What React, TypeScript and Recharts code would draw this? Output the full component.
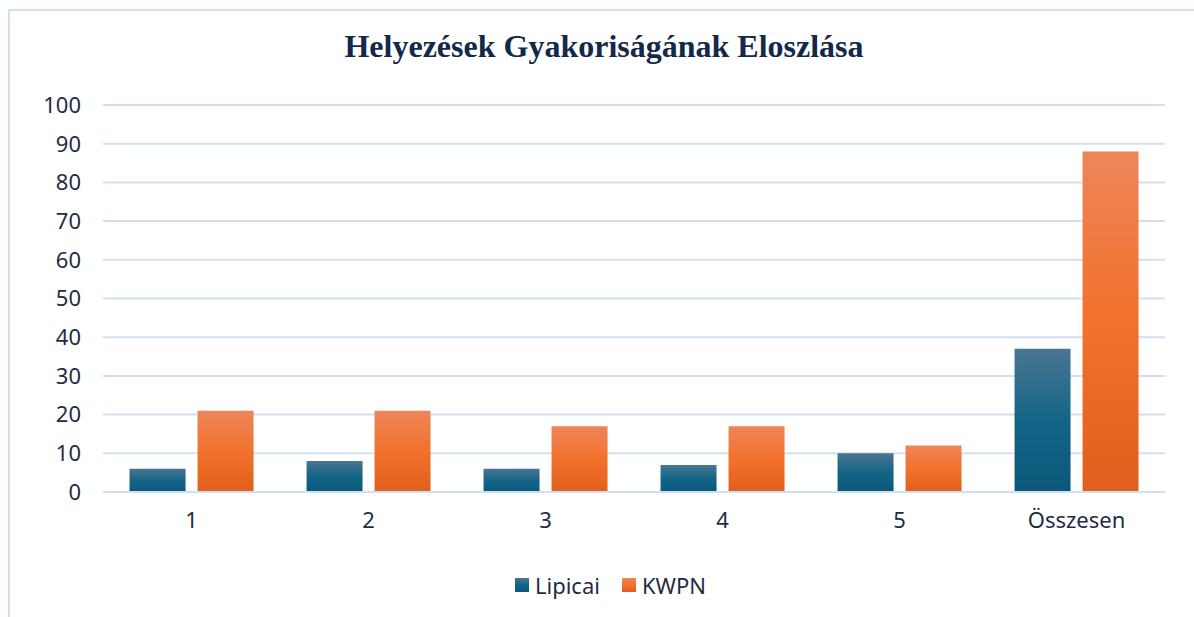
import { BarChart, Bar, XAxis, YAxis, CartesianGrid, Legend } from 'recharts';

const categories = ['1', '2', '3', '4', '5', 'Összesen'];
const lipicai = [6, 8, 6, 7, 10, 37];
const kwpn = [21, 21, 17, 17, 12, 88];
const yTicks = [0, 10, 20, 30, 40, 50, 60, 70, 80, 90, 100];

const seriesNames = ['Lipicai', 'KWPN'];
const seriesFills = ['url(#gradLip)', 'url(#gradKwpn)'];

const chartData = categories.map((name, i) => ({
  name,
  Lipicai: lipicai[i],
  KWPN: kwpn[i],
}));

const textColor = '#1f2d44';
const gridColor = '#cfe0f2';
const font = '"Noto Sans", "Liberation Sans", sans-serif';

if (typeof document !== 'undefined') document.body.style.margin = '0';

function LegendBox() {
  return (
    <div
      style={{
        display: 'flex',
        justifyContent: 'center',
        alignItems: 'center',
        paddingLeft: 56,
        fontFamily: font,
        fontSize: 22,
        color: textColor,
      }}
    >
      {seriesNames.map((n, i) => (
        <div key={n} style={{ display: 'flex', alignItems: 'center', marginRight: i === 0 ? 22 : 0 }}>
          <svg width={14} height={14} style={{ marginRight: 6 }}>
            <rect width={14} height={14} fill={seriesFills[i]} />
          </svg>
          <span>{n}</span>
        </div>
      ))}
    </div>
  );
}

export default function App() {
  return (
    <div style={{ position: 'relative', width: 1194, height: 617, overflow: 'hidden', background: '#fff' }}>
      {/* chart border */}
      <div
        style={{
          position: 'absolute',
          left: 8,
          top: 9,
          width: 1200,
          height: 620,
          borderLeft: `2px solid ${gridColor}`,
          borderTop: `2px solid ${gridColor}`,
        }}
      />
      <div
        style={{
          position: 'absolute',
          top: 28,
          left: 0,
          width: 1208,
          textAlign: 'center',
          fontFamily: '"Liberation Serif", "Times New Roman", serif',
          fontWeight: 700,
          fontSize: 32,
          color: '#14294a',
        }}
      >
        Helyezések Gyakoriságának Eloszlása
      </div>
      <div style={{ position: 'absolute', left: 0, top: 0 }}>
        <BarChart
          width={1194}
          height={617}
          data={chartData}
          margin={{ top: 105, right: 29, bottom: 35, left: 0 }}
          barCategoryGap="15%"
          barGap={12}
        >
          <defs>
            <linearGradient id="gradLip" x1="0" y1="0" x2="0" y2="1">
              <stop offset="0%" stopColor="#4a7591" />
              <stop offset="50%" stopColor="#136587" />
              <stop offset="100%" stopColor="#0b577a" />
            </linearGradient>
            <linearGradient id="gradKwpn" x1="0" y1="0" x2="0" y2="1">
              <stop offset="0%" stopColor="#ee855a" />
              <stop offset="50%" stopColor="#f2712b" />
              <stop offset="100%" stopColor="#e05f1c" />
            </linearGradient>
          </defs>
          <CartesianGrid vertical={false} stroke={gridColor} strokeWidth={2} />
          <XAxis
            dataKey="name"
            axisLine={{ stroke: gridColor, strokeWidth: 2 }}
            tickLine={false}
            tickSize={0}
            tickMargin={20}
            height={60}
            tick={{ fill: textColor, fontSize: 22, fontFamily: font }}
          />
          <YAxis
            domain={[0, 100]}
            ticks={yTicks}
            interval={0}
            axisLine={false}
            tickLine={false}
            tickSize={0}
            tickMargin={22}
            width={103}
            tick={{ fill: textColor, fontSize: 22, fontFamily: font }}
          />
          <Legend verticalAlign="bottom" content={() => <LegendBox />} wrapperStyle={{ bottom: 17 }} />
          <Bar dataKey="Lipicai" fill="url(#gradLip)" isAnimationActive={false} />
          <Bar dataKey="KWPN" fill="url(#gradKwpn)" isAnimationActive={false} />
        </BarChart>
      </div>
    </div>
  );
}
